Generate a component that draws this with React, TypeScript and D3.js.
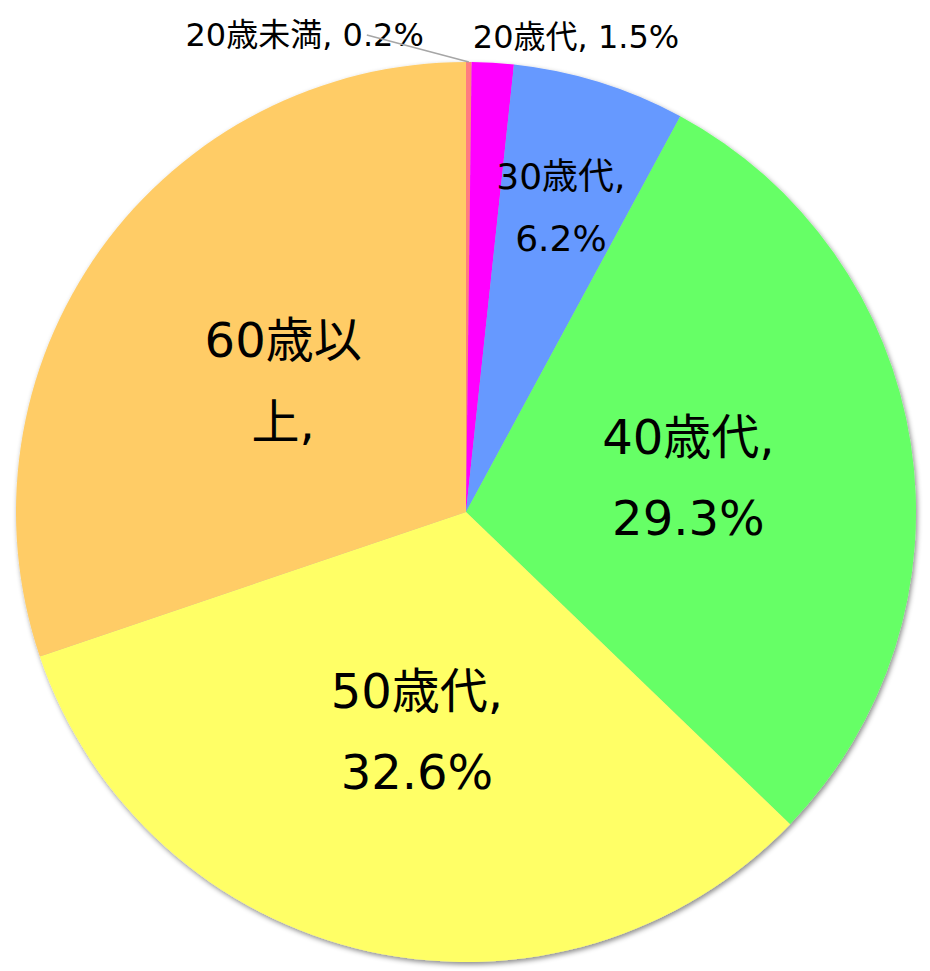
import React from 'react';
import * as d3 from 'd3';

// age groups, share of respondents (%)
const categories = ['20歳未満', '20歳代', '30歳代', '40歳代', '50歳代', '60歳以上'];
const values = [0.2, 1.5, 6.2, 29.3, 32.6, 30.2];
const colors = ['#FF7C80', '#FF00FF', '#6699FF', '#66FF66', '#FFFF66', '#FFCC66'];
// label text as shown (the 60歳以上 label is clipped after its second line)
const labelLines = [
  ['20歳未満, 0.2%'],
  ['20歳代, 1.5%'],
  ['30歳代,', '6.2%'],
  ['40歳代,', '29.3%'],
  ['50歳代,', '32.6%'],
  ['60歳以', '上,'],
];

const width = 930;
const height = 971;
const cx = 466;
const cy = 512;
const radius = 450;
const font = '"DejaVu Sans", "Noto Sans CJK JP", sans-serif';

const App = () => {
  const data = categories.map((name, i) => ({ name, value: values[i], color: colors[i], lines: labelLines[i] }));

  const pie = d3.pie<any>().sort(null).value(d => d.value);
  const arcs = pie(data);
  const arc = d3.arc<any>().innerRadius(0).outerRadius(radius);

  const fontSize = (v: number) => (v >= 20 ? 48 : v >= 5 ? 36 : 32);
  const labelRadius = (v: number) => (v >= 20 ? 0.5 * radius : 0.71 * radius);

  const polar = (angle: number, r: number) => [Math.sin(angle) * r, -Math.cos(angle) * r];

  return (
    <svg width={width} height={height} style={{ display: 'block', position: 'absolute', left: 0, top: 0 }}>
      <defs>
        <filter id="shadow" x="-10%" y="-10%" width="120%" height="120%">
          <feDropShadow dx="1.5" dy="2.5" stdDeviation="2.5" floodColor="#000" floodOpacity="0.45" />
        </filter>
      </defs>
      <g transform={`translate(${cx},${cy})`}>
        <g filter="url(#shadow)">
          {arcs.map((a, i) => (
            <path key={i} d={arc(a) as string} fill={a.data.color} />
          ))}
        </g>
        {arcs.map((a, i) => {
          const mid = (a.startAngle + a.endAngle) / 2;
          const fs = fontSize(a.data.value);
          if (a.data.value < 5 && a.data.value < 1) {
            // tiny slice: label outside to the left with a leader line
            const [ex, ey] = polar(mid, radius);
            return (
              <g key={'l' + i}>
                <text x={ex - 45} y={cy - 477 - cy + 0} fontSize={fs} fontFamily={font} textAnchor="end" dominantBaseline="central" fill="#000">
                  {a.data.lines[0]}
                </text>
                <line x1={ex} y1={ey} x2={ex - 102} y2={ey - 27} stroke="#A6A6A6" strokeWidth={1.5} />
              </g>
            );
          }
          if (a.data.value < 5) {
            const [ex] = polar(mid, radius);
            return (
              <text key={'l' + i} x={ex - 20} y={-475} fontSize={fs} fontFamily={font} textAnchor="start" dominantBaseline="central" fill="#000">
                {a.data.lines[0]}
              </text>
            );
          }
          const [lx, ly] = polar(mid, labelRadius(a.data.value));
          const lh = fs * 1.7;
          const n = a.data.lines.length;
          return (
            <text key={'l' + i} fontSize={fs} fontFamily={font} textAnchor="middle" dominantBaseline="central" fill="#000">
              {a.data.lines.map((t: string, j: number) => (
                <tspan key={j} x={lx} y={ly + (j - (n - 1) / 2) * lh}>{t}</tspan>
              ))}
            </text>
          );
        })}
      </g>
    </svg>
  );
};

export default App;
